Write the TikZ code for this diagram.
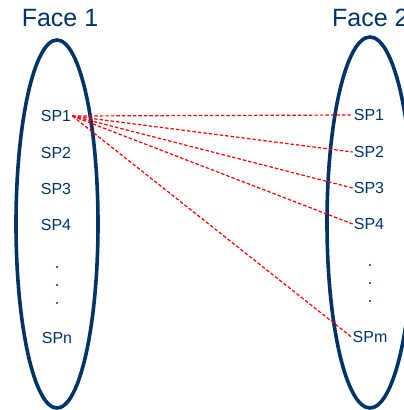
\documentclass[tikz,border=0pt]{standalone}
\usepackage{fontspec}
\setmainfont{Liberation Sans}
\definecolor{navy}{RGB}{0,52,102}
\begin{document}
\begin{tikzpicture}[x=1pt,y=-1pt,
  face/.style={draw=navy,line width=3.6pt},
  title/.style={text=navy,font=\fontsize{25}{27}\selectfont,inner sep=0pt},
  sp/.style={text=navy,font=\fontsize{16}{18}\selectfont,inner sep=1pt},
  vdot/.style={fill=navy,circle,inner sep=0pt,minimum size=2.2pt},
  link/.style={draw=red,line width=1.2pt,dash pattern=on 3.5pt off 2pt}]
\clip (0,0) rectangle (404,410);
\useasboundingbox (0,0) rectangle (404,410);
% the two faces
\draw[face] (57,224) ellipse [x radius=41, y radius=184];
\draw[face] (370,222.5) ellipse [x radius=43, y radius=185.5];
\node[title] (f1) at (60,18) {Face 1};
\node[title,anchor=west] (f2) at (332,18) {Face 2};
% points of face 1
\node[sp] (a1) at (56,116) {SP1};
\node[sp] (a2) at (56,153) {SP2};
\node[sp] (a3) at (56,189) {SP3};
\node[sp] (a4) at (56,225) {SP4};
\node[vdot] (ad1) at (57,267) {};
\node[vdot] (ad2) at (57,285) {};
\node[vdot] (ad3) at (57,303) {};
\node[sp] (an) at (57,338) {SPn};
% points of face 2
\node[sp] (b1) at (369,115) {SP1};
\node[sp] (b2) at (369,152) {SP2};
\node[sp] (b3) at (369,188) {SP3};
\node[sp] (b4) at (369,224) {SP4};
\node[vdot] (bd1) at (370,265) {};
\node[vdot] (bd2) at (370,283) {};
\node[vdot] (bd3) at (370,301) {};
\node[sp] (bm) at (370,337) {SPm};
% correspondences from SP1
\coordinate (s) at (a1.east);
\foreach \t in {b1,b2,b3,b4,bm}
  \draw[link] (s) -- (\t.west);
\end{tikzpicture}
\end{document}
